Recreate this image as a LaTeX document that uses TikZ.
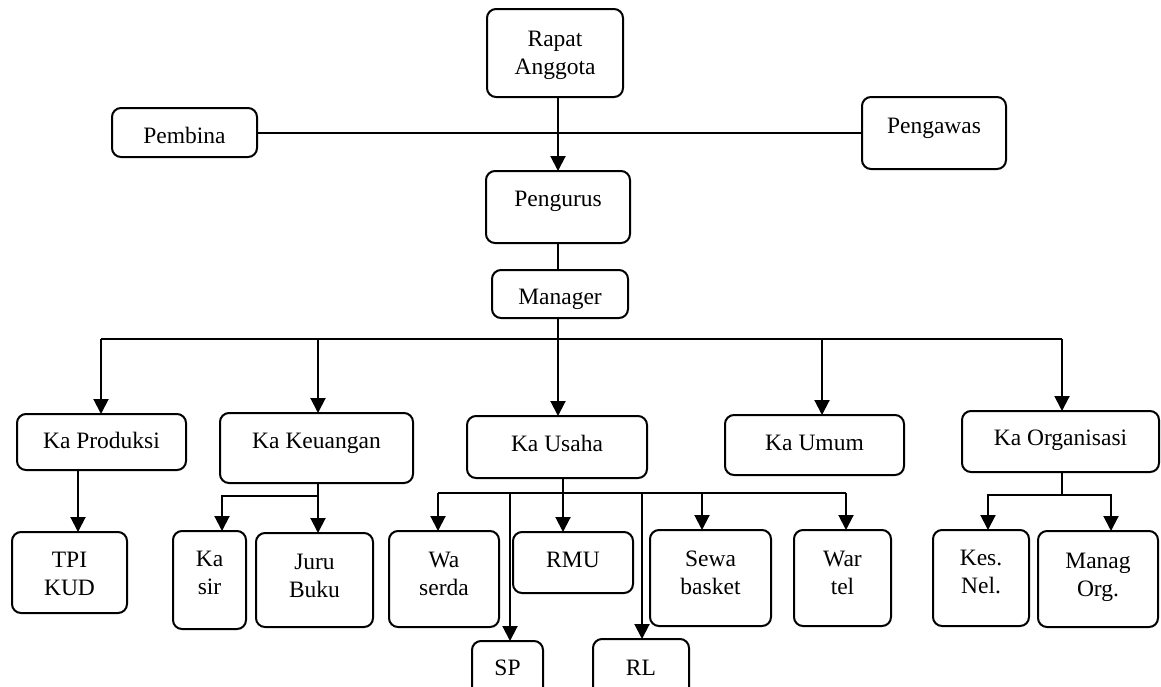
\documentclass[tikz,border=0pt]{standalone}
\usepackage{fontspec}
\setmainfont{Liberation Serif}
\usetikzlibrary{arrows.meta}

% box given by its corners: name, x1, y1, x2, y2
\newcommand\orgbox[5]{%
  \node[box, minimum width={(#4-#2)*1pt}, minimum height={(#5-#3)*1pt}]
    (#1) at ({(#2+#4)/2},{(#3+#5)/2}) {};}
% label of a box: box name, baseline of the last line, text
\newcommand\orgtext[3]{%
  \node[lbl] (#1-t) at (#1 |- 0,#2) {\begin{tabular}[b]{@{}c@{}}#3\end{tabular}};}

\begin{document}
\begin{tikzpicture}[x=1pt,y=-1pt,
  box/.style={draw, line width=2pt, rounded corners=9pt, inner sep=0pt, outer sep=0pt},
  lbl/.style={inner sep=0pt, outer sep=0pt, anchor=base, font=\fontsize{23.5}{28}\selectfont},
  wire/.style={line width=2pt},
  arr/.style={wire, -{Triangle[length=15pt,width=15pt]}}]
\useasboundingbox (0,0) rectangle (1161,686);
\clip (0,0) rectangle (1161,686);

% top of the organisation
\orgbox{rapat}{487}{9}{623}{97}
\orgbox{pembina}{112}{108}{257}{157}
\orgbox{pengawas}{862}{97}{1006}{169}
\orgbox{pengurus}{486}{171}{630}{243}
\orgbox{manager}{492}{270}{628}{318}

% heads of division
\orgbox{kaprod}{17}{414}{186}{470}
\orgbox{kakeu}{220}{413}{413}{483}
\orgbox{kausaha}{467}{416}{647}{478}
\orgbox{kaumum}{725}{415}{904}{475}
\orgbox{kaorg}{962}{411}{1159}{472}

% units
\orgbox{tpi}{12}{532}{127}{613}
\orgbox{kasir}{173}{531}{246}{629}
\orgbox{juru}{256}{533}{373}{627}
\orgbox{waserda}{389}{531}{499}{627}
\orgbox{rmu}{513}{532}{633}{593}
\orgbox{sewa}{650}{530}{771}{626}
\orgbox{wartel}{794}{530}{891}{626}
\orgbox{kes}{933}{530}{1029}{626}
\orgbox{manag}{1038}{531}{1158}{627}
\orgbox{sp}{472}{641}{543}{700}
\orgbox{rl}{593}{639}{689}{700}

% labels
\orgtext{rapat}{74}{Rapat\\Anggota}
\orgtext{pembina}{143}{Pembina}
\orgtext{pengawas}{133}{Pengawas}
\orgtext{pengurus}{206}{Pengurus}
\orgtext{manager}{304}{Manager}
\orgtext{kaprod}{448}{Ka Produksi}
\orgtext{kakeu}{448}{Ka Keuangan}
\orgtext{kausaha}{451}{Ka Usaha}
\orgtext{kaumum}{450}{Ka Umum}
\orgtext{kaorg}{445}{Ka Organisasi}
\orgtext{tpi}{595}{TPI\\KUD}
\orgtext{kasir}{594}{Ka\\sir}
\orgtext{juru}{597}{Juru\\Buku}
\orgtext{waserda}{595}{Wa\\serda}
\orgtext{rmu}{567}{RMU}
\orgtext{sewa}{594}{Sewa\\basket}
\orgtext{wartel}{594}{War\\tel}
\orgtext{kes}{593}{Kes.\\Nel.}
\orgtext{manag}{596}{Manag\\Org.}
\orgtext{sp}{675}{SP}
\orgtext{rl}{675}{RL}

% upper connectors
\draw[wire] (pembina.east) -- (pembina.east -| pengawas.west);
\draw[arr] (rapat.south -| pengurus.north) -- (pengurus.north);
\draw[wire] (pengurus.south) -- (pengurus.south |- manager.north);

% distribution line below the manager
\coordinate (d1) at (101,339);
\coordinate (d2) at (318,339);
\coordinate (d3) at (558,339);
\coordinate (d4) at (822,339);
\coordinate (d5) at (1062,339);
\draw[wire] (manager.south -| d3) -- (d3);
\draw[wire] (d1) -- (d5);
\foreach \d/\n in {d1/kaprod,d2/kakeu,d3/kausaha,d4/kaumum,d5/kaorg}
  \draw[arr] (\d) -- (\d |- \n.north);

% production
\draw[arr] (kaprod.south -| 78,0) -- (tpi.north -| 78,0);

% finance
\coordinate (k0) at (318,496);
\coordinate (k1) at (222,496);
\draw[arr] (kakeu.south -| k0) -- (k0 |- juru.north);
\draw[arr] (k0) -- (k1) -- (k1 |- kasir.north);

% business units
\coordinate (u0) at (563,493);
\draw[arr] (kausaha.south -| u0) -- (u0 |- rmu.north);
\draw[wire] (438,493) -- (846,493);
\foreach \x/\n in {438/waserda,510/sp,642/rl,702/sewa,846/wartel}
  \draw[arr] (\x,493) -- (\x,493 |- \n.north);

% organisation
\coordinate (o0) at (1062,495);
\coordinate (oL) at (988,495);
\coordinate (oR) at (1111,495);
\draw[wire] (kaorg.south -| o0) -- (o0);
\draw[arr] (o0) -- (oL) -- (oL |- kes.north);
\draw[arr] (o0) -- (oR) -- (oR |- manag.north);
\end{tikzpicture}
\end{document}
